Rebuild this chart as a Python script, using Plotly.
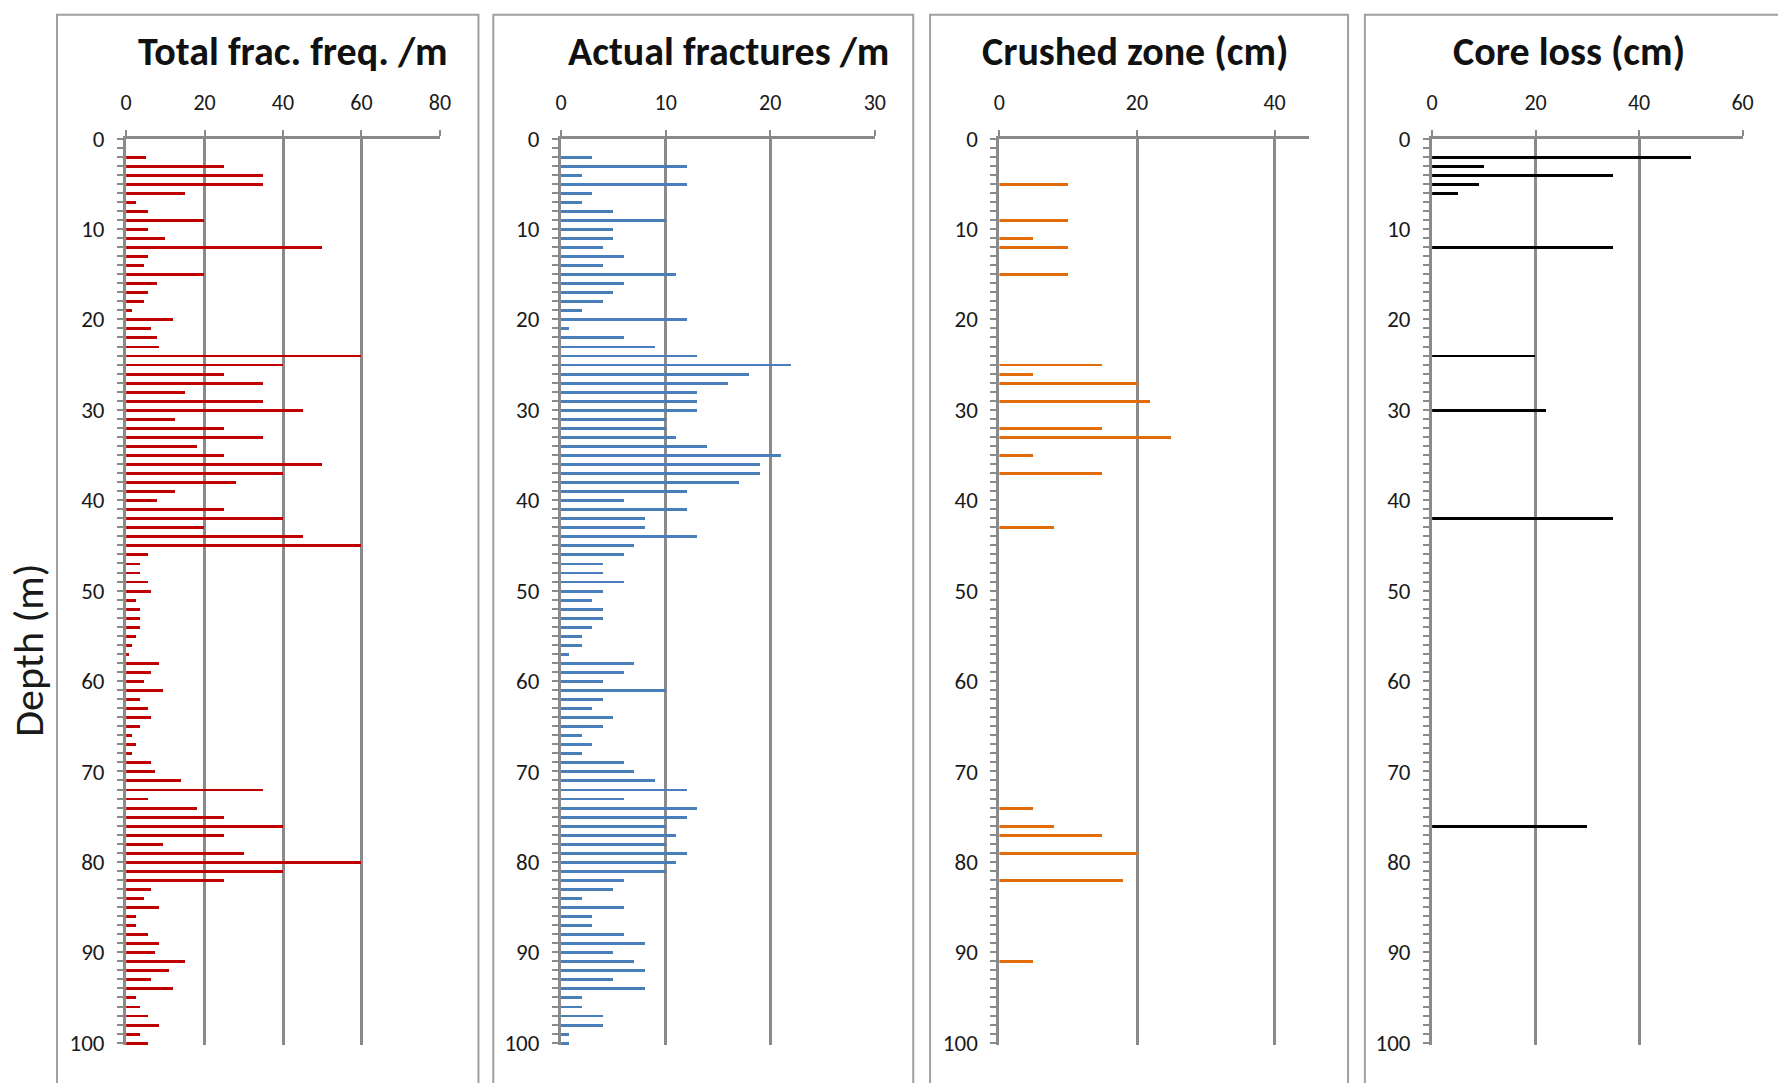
import plotly.graph_objects as go

# ---------------- data ----------------
depth_all = list(range(2, 101))

total_frac = [5, 25, 35, 35, 15, 2.5, 5.5, 20, 5.5, 10, 50, 5.5, 4.5, 20, 8, 5.5, 4.5, 1.5, 12, 6.5,
              8, 8.5, 60, 40, 25, 35, 15, 35, 45, 12.5, 25, 35, 18,
              25, 50, 40, 28, 12.5, 8, 25, 40, 20, 45, 60, 5.5, 3.5, 3.5, 5.5, 6.5, 2.5, 3.5, 3.5, 3.5,
              2.5, 1.5, 0.7, 8.5, 6.5, 4.5, 9.5, 3.5, 5.5, 6.5, 3.5, 1.5, 2.5, 1.5,
              6.5, 7.5, 14, 35, 5.5, 18, 25, 40, 25, 9.5, 30, 60, 40, 25, 6.5, 4.5, 8.5, 2.5, 2.5,
              5.5, 8.5, 7.5, 15, 11, 6.5, 12, 2.5, 3.5, 5.5, 8.5, 3.5, 5.5]

actual_frac = [3, 12, 2, 12, 3, 2, 5, 10, 5, 5, 4, 6, 4, 11, 6, 5, 4, 2, 12, 0.8,
               6, 9, 13, 22, 18, 16, 13, 13, 13, 10, 10, 11, 14,
               21, 19, 19, 17, 12, 6, 12, 8, 8, 13, 7, 6, 4, 4, 6, 4, 3, 4, 4, 3,
               2, 2, 0.8, 7, 6, 4, 10, 4, 3, 5, 4, 2, 3, 2,
               6, 7, 9, 12, 6, 13, 12, 10, 11, 10, 12, 11, 10, 6, 5, 2, 6, 3, 3,
               6, 8, 5, 7, 8, 5, 8, 2, 2, 4, 4, 0.8, 0.8]

crushed_depth = [5, 9, 11, 12, 15, 25, 26, 27, 29, 32, 33, 35, 37, 43, 74, 76, 77, 79, 82, 91]
crushed_cm = [10, 10, 5, 10, 10, 15, 5, 20, 22, 15, 25, 5, 15, 8, 5, 8, 15, 20, 18, 5]

coreloss_depth = [2, 3, 4, 5, 6, 12, 24, 30, 42, 76]
coreloss_cm = [50, 10, 35, 9, 5, 35, 20, 22, 35, 30]

titles = ["Total frac. freq. /m", "Actual fractures /m", "Crushed zone (cm)", "Core loss (cm)"]
x_ticks = [[0, 20, 40, 60, 80], [0, 10, 20, 30], [0, 20, 40], [0, 20, 40, 60]]
x_max = [80, 30, 45, 60]
depth_ticks = list(range(0, 101, 10))
y_title = "Depth (m)"

series = [
    (depth_all, total_frac, "#c00000"),
    (depth_all, actual_frac, "#4a7ebb"),
    (crushed_depth, crushed_cm, "#e36c0a"),
    (coreloss_depth, coreloss_cm, "#000000"),
]

# ---------------- geometry (figure pixels) ----------------
FW, FH = 1778, 1083


def px(x):
    return x / FW


def py(y):
    return 1 - y / FH


x_px = [(121.3, 438.1), (560.4, 877.2), (1003.0, 1315.6), (1439.9, 1753.3)]
title_cx = [290, 729, 1140, 1578]
box_px = [(51.5, 477), (492, 916), (933, 1355), (1372, 1800)]
y_top_px = 127.5
y_100_px = 1053.0
px_per_m = (y_100_px - y_top_px) / 100
y_max = 100.3
y_bot_px = y_top_px + y_max * px_per_m

FONT = "Carlito, Calibri, Lato, 'Open Sans', sans-serif"
GRID = "#8a8a8a"

fig = go.Figure()
layout = dict(
    width=FW, height=FH, autosize=False,
    margin=dict(l=0, r=0, t=0, b=0),
    paper_bgcolor="white", plot_bgcolor="rgba(0,0,0,0)",
    showlegend=False, bargap=0,
    font=dict(family=FONT, color="#1a1a1a"),
)

annotations = []
shapes = []
for i, ((ys, xs, col), (x0, x1)) in enumerate(zip(series, x_px)):
    n = "" if i == 0 else str(i + 1)
    fig.add_trace(go.Bar(
        x=xs, y=ys, orientation="h", width=0.32,
        marker=dict(color=col, line=dict(width=0)),
        xaxis="x" + n, yaxis="y" + n,
    ))
    layout["xaxis" + n] = dict(
        domain=[px(x0), px(x1)], range=[0, x_max[i]], side="top",
        anchor="y" + n, tickvals=x_ticks[i], ticktext=[str(t) for t in x_ticks[i]],
        showgrid=True, gridcolor=GRID, gridwidth=2.8,
        showline=True, linecolor=GRID, linewidth=2.8,
        ticks="outside", ticklen=6, tickwidth=2, tickcolor=GRID,
        tickfont=dict(size=22, family=FONT, color="#1a1a1a"),
        ticklabelstandoff=11, zeroline=False, fixedrange=True,
    )
    layout["yaxis" + n] = dict(
        domain=[py(y_bot_px), py(y_top_px)], range=[y_max, 0],
        anchor="x" + n, tickvals=depth_ticks, ticktext=[str(t) for t in depth_ticks],
        showgrid=False, zeroline=False,
        showline=True, linecolor=GRID, linewidth=3,
        ticks="outside", ticklen=6, tickwidth=2, tickcolor=GRID,
        minor=dict(dtick=1, ticks="outside", ticklen=6, tickwidth=2, tickcolor=GRID),
        tickfont=dict(size=23, family=FONT, color="#1a1a1a"),
        ticklabelstandoff=8, fixedrange=True,
    )
    annotations.append(dict(
        text="<b>%s</b>" % titles[i], x=px(title_cx[i]), y=py(38),
        xref="paper", yref="paper", showarrow=False, xanchor="center", yanchor="middle",
        font=dict(size=40, family=FONT, color="#111111"),
    ))
    bx0, bx1 = box_px[i]
    shapes.append(dict(
        type="rect", xref="paper", yref="paper",
        x0=px(bx0), x1=px(bx1), y0=-0.05, y1=py(0.8),
        line=dict(color="#a0a0a0", width=2), fillcolor="rgba(0,0,0,0)", layer="below",
    ))

annotations.append(dict(
    text=y_title, x=px(23), y=py(651), xref="paper", yref="paper",
    showarrow=False, textangle=-90, xanchor="center", yanchor="middle",
    font=dict(size=42, family=FONT, color="#1a1a1a"),
))

layout["annotations"] = annotations
layout["shapes"] = shapes
fig.update_layout(**layout)
fig.write_html("out.html")
